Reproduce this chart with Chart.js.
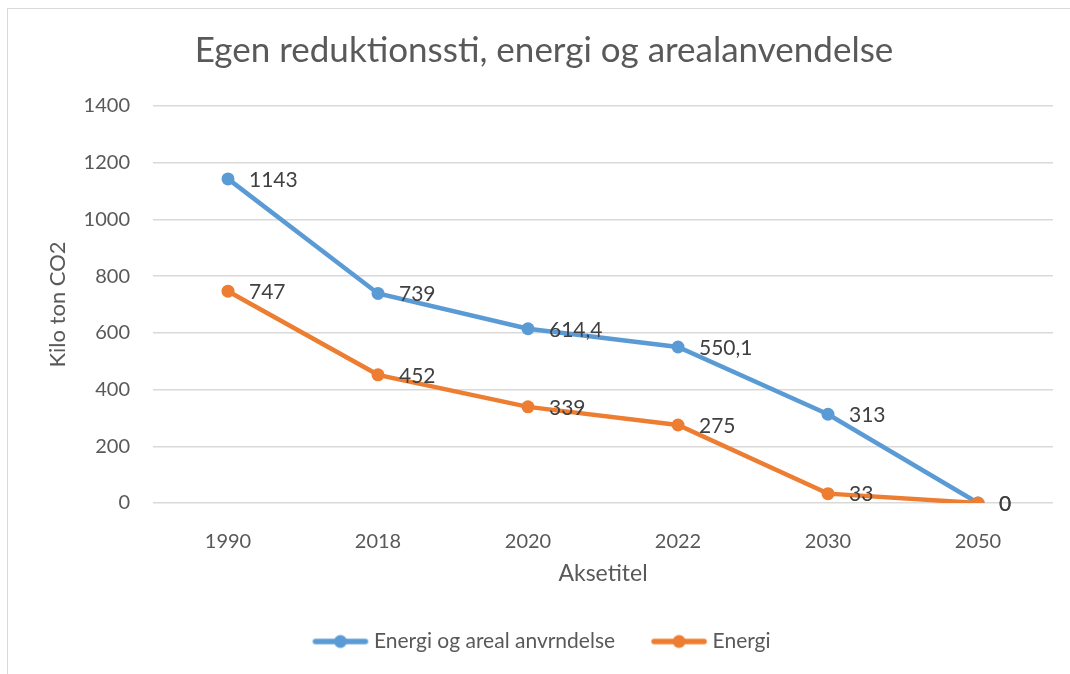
<!DOCTYPE html>
<html>
<head>
<meta charset="utf-8">
<script src="https://cdn.jsdelivr.net/npm/chart.js@4"></script>
<style>
    html, body { margin: 0; padding: 0; background: #fff; }
    #wrap { position: relative; width: 1070px; height: 674px; overflow: hidden; }
    #frame {
        position: absolute; left: 7px; top: 8px;
        width: 1080px; height: 700px;
        border: 1px solid #D9D9D9; box-sizing: border-box;
    }
    canvas { position: absolute; left: 0; top: 0; }
</style>
</head>
<body>
<div id="wrap">
    <div id="frame"></div>
    <canvas id="co2Chart" width="1070" height="674"></canvas>
</div>
<script>
const years = ["1990", "2018", "2020", "2022", "2030", "2050"];
const energiOgAreal = [1143, 739, 614.4, 550.1, 313, 0];
const energi = [747, 452, 339, 275, 33, 0];
const yTicks = [0, 200, 400, 600, 800, 1000, 1200, 1400];

const FONT = "Lato, 'Open Sans', sans-serif";
const TEXT = "#595959";

function legendIcon(color) {
    const c = document.createElement("canvas");
    c.width = 58;
    c.height = 16;
    const g = c.getContext("2d");
    g.strokeStyle = color;
    g.lineWidth = 5.5;
    g.lineCap = "round";
    g.beginPath();
    g.moveTo(4, 8);
    g.lineTo(54, 8);
    g.stroke();
    g.fillStyle = color;
    g.beginPath();
    g.arc(29, 8, 6.5, 0, Math.PI * 2);
    g.fill();
    return c;
}

// data labels to the right of each point
const pointLabels = {
    id: "pointLabels",
    afterDatasetsDraw(chart) {
        const ctx = chart.ctx;
        ctx.save();
        ctx.font = "21px " + FONT;
        ctx.fillStyle = "#404040";
        ctx.textAlign = "left";
        ctx.textBaseline = "middle";
        chart.data.datasets.forEach((ds, i) => {
            const meta = chart.getDatasetMeta(i);
            meta.data.forEach((pt, j) => {
                const txt = String(ds.data[j]).replace(".", ",");
                ctx.fillText(txt, pt.x + 21, pt.y + 1);
            });
        });
        ctx.restore();
    }
};

new Chart(document.getElementById("co2Chart"), {
    type: "line",
    data: {
        labels: years,
        datasets: [
            {
                label: "Energi og areal anvrndelse",
                data: energiOgAreal,
                order: 1,
                borderColor: "#5B9BD5",
                backgroundColor: "#5B9BD5",
                borderWidth: 4.5,
                pointRadius: 6.5,
                pointHoverRadius: 6.5,
                pointBorderWidth: 0,
                tension: 0
            },
            {
                label: "Energi",
                data: energi,
                order: 0,
                borderColor: "#ED7D31",
                backgroundColor: "#ED7D31",
                borderWidth: 4.5,
                pointRadius: 6.5,
                pointHoverRadius: 6.5,
                pointBorderWidth: 0,
                tension: 0
            }
        ]
    },
    options: {
        responsive: false,
        animation: false,
        events: [],
        layout: {
            padding: { left: 35, right: 17, top: 0, bottom: 12 }
        },
        scales: {
            x: {
                offset: true,
                grid: { display: false },
                border: { display: false },
                ticks: {
                    color: TEXT,
                    font: { family: FONT, size: 20 },
                    padding: 19
                },
                title: {
                    display: true,
                    text: "Aksetitel",
                    color: TEXT,
                    font: { family: FONT, size: 23 },
                    padding: { top: 0, bottom: 3 }
                },
                afterFit(scale) { scale.height = 87; }
            },
            y: {
                min: 0,
                max: 1400,
                afterBuildTicks(scale) {
                    scale.ticks = yTicks.map(v => ({ value: v }));
                },
                grid: {
                    color: "#D9D9D9",
                    lineWidth: 1.5,
                    drawTicks: false
                },
                border: { display: false },
                ticks: {
                    color: TEXT,
                    font: { family: FONT, size: 20 },
                    padding: 23,
                    callback: v => String(v)
                },
                title: {
                    display: true,
                    text: "Kilo ton CO2",
                    color: TEXT,
                    font: { family: FONT, size: 22 },
                    padding: { top: 10, bottom: 0 }
                },
                afterFit(scale) { scale.width = 118; }
            }
        },
        plugins: {
            title: {
                display: true,
                text: "Egen reduktionssti, energi og arealanvendelse",
                color: TEXT,
                font: { family: FONT, size: 35, weight: "normal" },
                padding: { top: 30, bottom: 34 }
            },
            legend: {
                position: "bottom",
                labels: {
                    color: TEXT,
                    font: { family: FONT, size: 21 },
                    usePointStyle: true,
                    pointStyleWidth: 46,
                    padding: 41,
                    generateLabels(chart) {
                        return chart.data.datasets.map((ds, i) => ({
                            text: ds.label,
                            fontColor: TEXT,
                            pointStyle: legendIcon(ds.borderColor),
                            datasetIndex: i,
                            lineWidth: 0,
                            strokeStyle: ds.borderColor,
                            fillStyle: ds.borderColor
                        }));
                    }
                }
            },
            tooltip: { enabled: false }
        }
    },
    plugins: [pointLabels]
});
</script>
</body>
</html>
